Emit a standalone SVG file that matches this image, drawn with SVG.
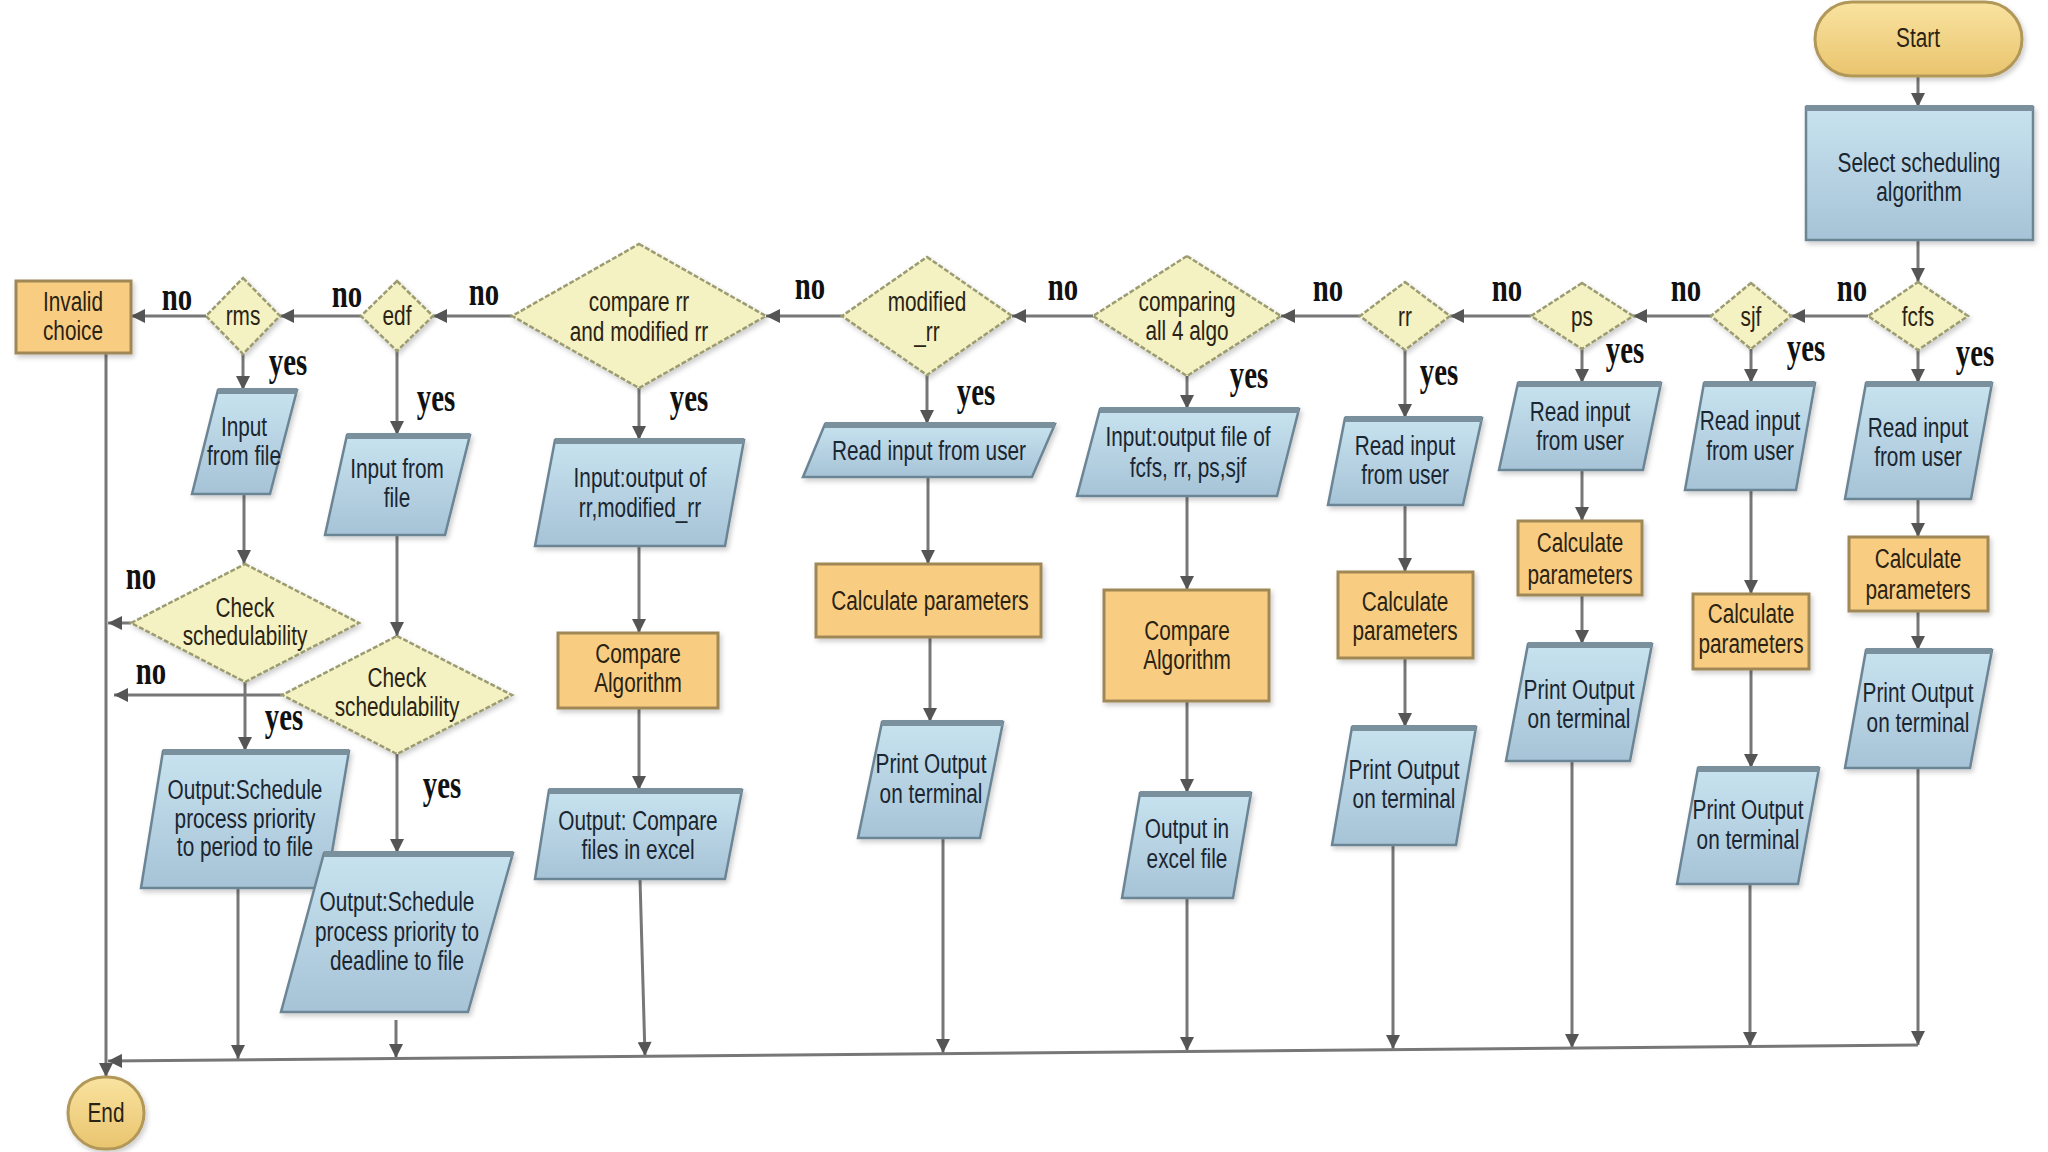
<svg xmlns="http://www.w3.org/2000/svg" width="2048" height="1152" viewBox="0 0 2048 1152">
<defs>
<linearGradient id="gb" x1="0" y1="0" x2="0" y2="1"><stop offset="0" stop-color="#c8e3ef"/><stop offset="1" stop-color="#a6c3d7"/></linearGradient>
<linearGradient id="gt" x1="0" y1="0" x2="0" y2="1"><stop offset="0" stop-color="#f9e3a0"/><stop offset="1" stop-color="#e9c46e"/></linearGradient>
<filter id="sh" x="-10%" y="-10%" width="130%" height="130%"><feDropShadow dx="2" dy="3" stdDeviation="2.5" flood-color="#000" flood-opacity="0.2"/></filter>
<marker id="ah" viewBox="0 0 10 10" refX="10" refY="5" markerWidth="15" markerHeight="14" markerUnits="userSpaceOnUse" orient="auto"><path d="M0,0 L10,5 L0,10 z" fill="#555"/></marker>
<style>
.blue{fill:url(#gb);stroke:#6c8595;stroke-width:2.5;filter:url(#sh)}
.tb{stroke:#7a909c;stroke-width:6}
.org{fill:#f9cd81;stroke:#9f8857;stroke-width:3;filter:url(#sh)}
.dia{fill:#f4f1c2;stroke:#9c9c70;stroke-width:2.5;stroke-dasharray:5 2;filter:url(#sh)}
.term{fill:url(#gt);stroke:#b29859;stroke-width:3;filter:url(#sh)}
.nt{font-family:"Liberation Sans",Arial,sans-serif;font-size:27px;fill:#1a2631;text-anchor:middle}
.ot{fill:#2a2314}
.lb{font-family:"Liberation Serif","Times New Roman",serif;font-weight:bold;font-size:40px;fill:#111;text-anchor:middle}
.cn line{stroke:#777;stroke-width:3;fill:none}
.cn .a{marker-end:url(#ah)}
</style>
</defs>
<rect width="2048" height="1152" fill="#fff"/>

<g id="connectors" class="cn">
<line class="a" x1="1918" y1="76" x2="1918" y2="107"/>
<line class="a" x1="1918" y1="240" x2="1918" y2="282"/>
<line class="a" x1="1918" y1="350" x2="1918" y2="383"/>
<line class="a" x1="1918" y1="499" x2="1918" y2="537"/>
<line class="a" x1="1918" y1="611" x2="1918" y2="650"/>
<line class="a" x1="1918" y1="768" x2="1918" y2="1045"/>
<line class="a" x1="1868" y1="316" x2="1791" y2="316"/>
<line class="a" x1="1751" y1="349" x2="1751" y2="383"/>
<line class="a" x1="1751" y1="490" x2="1751" y2="594"/>
<line class="a" x1="1751" y1="669" x2="1751" y2="768"/>
<line class="a" x1="1750" y1="884" x2="1750" y2="1046"/>
<line class="a" x1="1711" y1="316" x2="1633" y2="316"/>
<line class="a" x1="1582" y1="349" x2="1582" y2="383"/>
<line class="a" x1="1582" y1="470" x2="1582" y2="521"/>
<line class="a" x1="1582" y1="595" x2="1582" y2="644"/>
<line class="a" x1="1572" y1="761" x2="1572" y2="1048"/>
<line class="a" x1="1531" y1="316" x2="1450" y2="316"/>
<line class="a" x1="1405" y1="350" x2="1405" y2="418"/>
<line class="a" x1="1405" y1="505" x2="1405" y2="572"/>
<line class="a" x1="1405" y1="658" x2="1405" y2="727"/>
<line class="a" x1="1393" y1="845" x2="1393" y2="1049"/>
<line class="a" x1="1360" y1="316" x2="1281" y2="316"/>
<line class="a" x1="1187" y1="376" x2="1187" y2="409"/>
<line class="a" x1="1187" y1="496" x2="1187" y2="590"/>
<line class="a" x1="1187" y1="701" x2="1187" y2="793"/>
<line class="a" x1="1187" y1="898" x2="1187" y2="1051"/>
<line class="a" x1="1093" y1="316" x2="1012" y2="316"/>
<line class="a" x1="927" y1="375" x2="927" y2="424"/>
<line class="a" x1="928" y1="477" x2="928" y2="564"/>
<line class="a" x1="930" y1="637" x2="930" y2="722"/>
<line class="a" x1="943" y1="838" x2="943" y2="1053"/>
<line class="a" x1="842" y1="316" x2="766" y2="316"/>
<line class="a" x1="639" y1="388" x2="639" y2="440"/>
<line class="a" x1="639" y1="546" x2="639" y2="633"/>
<line class="a" x1="639" y1="708" x2="639" y2="790"/>
<line class="a" x1="640" y1="879" x2="645" y2="1056"/>
<line class="a" x1="512" y1="316" x2="433" y2="316"/>
<line class="a" x1="397" y1="351" x2="397" y2="435"/>
<line class="a" x1="397" y1="535" x2="397" y2="636"/>
<line class="a" x1="397" y1="754" x2="397" y2="853"/>
<line class="a" x1="396" y1="1020" x2="396" y2="1058"/>
<line class="a" x1="282" y1="695" x2="114" y2="695"/>
<line class="a" x1="361" y1="316" x2="280" y2="316"/>
<line class="a" x1="243" y1="354" x2="243" y2="390"/>
<line class="a" x1="244" y1="494" x2="244" y2="564"/>
<line class="a" x1="245" y1="682" x2="245" y2="751"/>
<line class="a" x1="238" y1="888" x2="238" y2="1059"/>
<line class="a" x1="131" y1="623" x2="108" y2="623"/>
<line class="a" x1="206" y1="316" x2="131" y2="316"/>
<line class="a" x1="106" y1="353" x2="106" y2="1077"/>
<line class="a" x1="1918" y1="1045" x2="108" y2="1061"/>
</g>

<g id="labels">
<text class="lb" transform="translate(1852 0) scale(.72 1)" x="0" y="301">no</text>
<text class="lb" transform="translate(1686 0) scale(.72 1)" x="0" y="301">no</text>
<text class="lb" transform="translate(1507 0) scale(.72 1)" x="0" y="301">no</text>
<text class="lb" transform="translate(1328 0) scale(.72 1)" x="0" y="301">no</text>
<text class="lb" transform="translate(1063 0) scale(.72 1)" x="0" y="300">no</text>
<text class="lb" transform="translate(810 0) scale(.72 1)" x="0" y="299">no</text>
<text class="lb" transform="translate(484 0) scale(.72 1)" x="0" y="305">no</text>
<text class="lb" transform="translate(347 0) scale(.72 1)" x="0" y="307">no</text>
<text class="lb" transform="translate(177 0) scale(.72 1)" x="0" y="310">no</text>
<text class="lb" transform="translate(141 0) scale(.72 1)" x="0" y="589">no</text>
<text class="lb" transform="translate(151 0) scale(.72 1)" x="0" y="684">no</text>
<text class="lb" transform="translate(1975 0) scale(.72 1)" x="0" y="366">yes</text>
<text class="lb" transform="translate(1806 0) scale(.72 1)" x="0" y="361">yes</text>
<text class="lb" transform="translate(1625 0) scale(.72 1)" x="0" y="363">yes</text>
<text class="lb" transform="translate(1439 0) scale(.72 1)" x="0" y="385">yes</text>
<text class="lb" transform="translate(1249 0) scale(.72 1)" x="0" y="388">yes</text>
<text class="lb" transform="translate(976 0) scale(.72 1)" x="0" y="405">yes</text>
<text class="lb" transform="translate(689 0) scale(.72 1)" x="0" y="411">yes</text>
<text class="lb" transform="translate(436 0) scale(.72 1)" x="0" y="411">yes</text>
<text class="lb" transform="translate(288 0) scale(.72 1)" x="0" y="375">yes</text>
<text class="lb" transform="translate(284 0) scale(.72 1)" x="0" y="730">yes</text>
<text class="lb" transform="translate(442 0) scale(.72 1)" x="0" y="798">yes</text>
</g>

<g id="start"><rect class="term" x="1815" y="2" width="207" height="74" rx="37"/><text class="nt ot" transform="translate(1918 0) scale(.77 1)" x="0" y="47">Start</text></g>
<g id="select"><rect class="blue" x="1806" y="107" width="227" height="133"/><line class="tb" x1="1806" y1="108" x2="2033" y2="108"/><text class="nt" transform="translate(1919 0) scale(.77 1)"><tspan x="0" y="172">Select scheduling</tspan><tspan x="0" y="201">algorithm</tspan></text></g>

<g id="fcfs"><polygon class="dia" points="1918,282 1968,316 1918,350 1868,316"/><text class="nt ot" transform="translate(1918 0) scale(.77 1)" x="0" y="326">fcfs</text></g>
<g id="fcfs_read"><polygon class="blue" points="1866,383 1992,383 1971,499 1845,499"/><line class="tb" x1="1866" y1="384" x2="1992" y2="384"/><text class="nt" transform="translate(1918 0) scale(.77 1)"><tspan x="0" y="437">Read input</tspan><tspan x="0" y="466">from user</tspan></text></g>
<g id="fcfs_calc"><rect class="org" x="1849" y="537" width="139" height="74"/><text class="nt ot" transform="translate(1918 0) scale(.77 1)"><tspan x="0" y="568">Calculate</tspan><tspan x="0" y="599">parameters</tspan></text></g>
<g id="fcfs_print"><polygon class="blue" points="1866,650 1992,650 1970,768 1845,768"/><line class="tb" x1="1866" y1="651" x2="1992" y2="651"/><text class="nt" transform="translate(1918 0) scale(.77 1)"><tspan x="0" y="702">Print Output</tspan><tspan x="0" y="732">on terminal</tspan></text></g>

<g id="sjf"><polygon class="dia" points="1751,283 1791,316 1751,349 1711,316"/><text class="nt ot" transform="translate(1751 0) scale(.77 1)" x="0" y="326">sjf</text></g>
<g id="sjf_read"><polygon class="blue" points="1704,383 1815,383 1796,490 1685,490"/><line class="tb" x1="1704" y1="384" x2="1815" y2="384"/><text class="nt" transform="translate(1750 0) scale(.77 1)"><tspan x="0" y="430">Read input</tspan><tspan x="0" y="460">from user</tspan></text></g>
<g id="sjf_calc"><rect class="org" x="1693" y="594" width="116" height="75"/><text class="nt ot" transform="translate(1751 0) scale(.77 1)"><tspan x="0" y="623">Calculate</tspan><tspan x="0" y="653">parameters</tspan></text></g>
<g id="sjf_print"><polygon class="blue" points="1698,768 1819,768 1798,884 1677,884"/><line class="tb" x1="1698" y1="769" x2="1819" y2="769"/><text class="nt" transform="translate(1748 0) scale(.77 1)"><tspan x="0" y="819">Print Output</tspan><tspan x="0" y="849">on terminal</tspan></text></g>

<g id="ps"><polygon class="dia" points="1582,283 1633,316 1582,349 1531,316"/><text class="nt ot" transform="translate(1582 0) scale(.77 1)" x="0" y="326">ps</text></g>
<g id="ps_read"><polygon class="blue" points="1518,383 1661,383 1643,470 1499,470"/><line class="tb" x1="1518" y1="384" x2="1661" y2="384"/><text class="nt" transform="translate(1580 0) scale(.77 1)"><tspan x="0" y="421">Read input</tspan><tspan x="0" y="450">from user</tspan></text></g>
<g id="ps_calc"><rect class="org" x="1518" y="521" width="124" height="74"/><text class="nt ot" transform="translate(1580 0) scale(.77 1)"><tspan x="0" y="552">Calculate</tspan><tspan x="0" y="584">parameters</tspan></text></g>
<g id="ps_print"><polygon class="blue" points="1528,644 1652,644 1630,761 1506,761"/><line class="tb" x1="1528" y1="645" x2="1652" y2="645"/><text class="nt" transform="translate(1579 0) scale(.77 1)"><tspan x="0" y="699">Print Output</tspan><tspan x="0" y="728">on terminal</tspan></text></g>

<g id="rr"><polygon class="dia" points="1405,282 1450,316 1405,350 1360,316"/><text class="nt ot" transform="translate(1405 0) scale(.77 1)" x="0" y="326">rr</text></g>
<g id="rr_read"><polygon class="blue" points="1345,418 1482,418 1463,505 1328,505"/><line class="tb" x1="1345" y1="419" x2="1482" y2="419"/><text class="nt" transform="translate(1405 0) scale(.77 1)"><tspan x="0" y="455">Read input</tspan><tspan x="0" y="484">from user</tspan></text></g>
<g id="rr_calc"><rect class="org" x="1338" y="572" width="135" height="86"/><text class="nt ot" transform="translate(1405 0) scale(.77 1)"><tspan x="0" y="611">Calculate</tspan><tspan x="0" y="640">parameters</tspan></text></g>
<g id="rr_print"><polygon class="blue" points="1352,727 1476,727 1456,845 1332,845"/><line class="tb" x1="1352" y1="728" x2="1476" y2="728"/><text class="nt" transform="translate(1404 0) scale(.77 1)"><tspan x="0" y="779">Print Output</tspan><tspan x="0" y="808">on terminal</tspan></text></g>

<g id="compare_all"><polygon class="dia" points="1187,256 1281,316 1187,376 1093,316"/><text class="nt ot" transform="translate(1187 0) scale(.77 1)"><tspan x="0" y="311">comparing</tspan><tspan x="0" y="340">all 4 algo</tspan></text></g>
<g id="all_input"><polygon class="blue" points="1100,409 1299,409 1277,496 1077,496"/><line class="tb" x1="1100" y1="410" x2="1299" y2="410"/><text class="nt" transform="translate(1188 0) scale(.77 1)"><tspan x="0" y="446">Input:output file of</tspan><tspan x="0" y="477">fcfs, rr, ps,sjf</tspan></text></g>
<g id="all_compare"><rect class="org" x="1104" y="590" width="165" height="111"/><text class="nt ot" transform="translate(1187 0) scale(.77 1)"><tspan x="0" y="640">Compare</tspan><tspan x="0" y="669">Algorithm</tspan></text></g>
<g id="all_excel"><polygon class="blue" points="1140,793 1251,793 1233,898 1122,898"/><line class="tb" x1="1140" y1="794" x2="1251" y2="794"/><text class="nt" transform="translate(1187 0) scale(.77 1)"><tspan x="0" y="838">Output in</tspan><tspan x="0" y="868">excel file</tspan></text></g>

<g id="modified_rr"><polygon class="dia" points="927,257 1012,316 927,375 842,316"/><text class="nt ot" transform="translate(927 0) scale(.77 1)"><tspan x="0" y="311">modified</tspan><tspan x="0" y="341">_rr</tspan></text></g>
<g id="mod_read"><polygon class="blue" points="825,424 1055,424 1032,477 803,477"/><line class="tb" x1="825" y1="425" x2="1055" y2="425"/><text class="nt" transform="translate(929 0) scale(.77 1)" x="0" y="460">Read input from user</text></g>
<g id="mod_calc"><rect class="org" x="816" y="564" width="225" height="73"/><text class="nt ot" transform="translate(930 0) scale(.77 1)" x="0" y="610">Calculate parameters</text></g>
<g id="mod_print"><polygon class="blue" points="882,722 1003,722 980,838 858,838"/><line class="tb" x1="882" y1="723" x2="1003" y2="723"/><text class="nt" transform="translate(931 0) scale(.77 1)"><tspan x="0" y="773">Print Output</tspan><tspan x="0" y="803">on terminal</tspan></text></g>

<g id="compare_rr"><polygon class="dia" points="639,244 766,316 639,388 512,316"/><text class="nt ot" transform="translate(639 0) scale(.77 1)"><tspan x="0" y="311">compare rr</tspan><tspan x="0" y="341">and modified rr</tspan></text></g>
<g id="crr_input"><polygon class="blue" points="555,440 744,440 725,546 535,546"/><line class="tb" x1="555" y1="441" x2="744" y2="441"/><text class="nt" transform="translate(640 0) scale(.77 1)"><tspan x="0" y="487">Input:output of</tspan><tspan x="0" y="517">rr,modified_rr</tspan></text></g>
<g id="crr_compare"><rect class="org" x="558" y="633" width="160" height="75"/><text class="nt ot" transform="translate(638 0) scale(.77 1)"><tspan x="0" y="663">Compare</tspan><tspan x="0" y="692">Algorithm</tspan></text></g>
<g id="crr_output"><polygon class="blue" points="549,790 742,790 725,879 535,879"/><line class="tb" x1="549" y1="791" x2="742" y2="791"/><text class="nt" transform="translate(638 0) scale(.77 1)"><tspan x="0" y="830">Output: Compare</tspan><tspan x="0" y="859">files in excel</tspan></text></g>

<g id="invalid"><rect class="org" x="16" y="281" width="115" height="72"/><text class="nt ot" transform="translate(73 0) scale(.77 1)"><tspan x="0" y="311">Invalid</tspan><tspan x="0" y="340">choice</tspan></text></g>

<g id="rms"><polygon class="dia" points="243,278 280,316 243,354 206,316"/><text class="nt ot" transform="translate(243 0) scale(.77 1)" x="0" y="325">rms</text></g>
<g id="rms_input"><polygon class="blue" points="218,390 297,390 270,494 192,494"/><line class="tb" x1="218" y1="391" x2="297" y2="391"/><text class="nt" transform="translate(244 0) scale(.77 1)"><tspan x="0" y="436">Input</tspan><tspan x="0" y="465">from file</tspan></text></g>
<g id="rms_check"><polygon class="dia" points="245,564 359,623 245,682 131,623"/><text class="nt ot" transform="translate(245 0) scale(.77 1)"><tspan x="0" y="617">Check</tspan><tspan x="0" y="645">schedulability</tspan></text></g>
<g id="rms_output"><polygon class="blue" points="163,751 349,751 326,888 141,888"/><line class="tb" x1="163" y1="752" x2="349" y2="752"/><text class="nt" transform="translate(245 0) scale(.77 1)"><tspan x="0" y="799">Output:Schedule</tspan><tspan x="0" y="828">process priority</tspan><tspan x="0" y="856">to period to file</tspan></text></g>

<g id="edf"><polygon class="dia" points="397,281 433,316 397,351 361,316"/><text class="nt ot" transform="translate(397 0) scale(.77 1)" x="0" y="325">edf</text></g>
<g id="edf_input"><polygon class="blue" points="347,435 470,435 445,535 325,535"/><line class="tb" x1="347" y1="436" x2="470" y2="436"/><text class="nt" transform="translate(397 0) scale(.77 1)"><tspan x="0" y="478">Input from</tspan><tspan x="0" y="507">file</tspan></text></g>
<g id="edf_check"><polygon class="dia" points="397,636 512,695 397,754 282,695"/><text class="nt ot" transform="translate(397 0) scale(.77 1)"><tspan x="0" y="687">Check</tspan><tspan x="0" y="716">schedulability</tspan></text></g>
<g id="edf_output"><polygon class="blue" points="324,853 513,853 468,1012 281,1012"/><line class="tb" x1="324" y1="854" x2="513" y2="854"/><text class="nt" transform="translate(397 0) scale(.77 1)"><tspan x="0" y="911">Output:Schedule</tspan><tspan x="0" y="941">process priority to</tspan><tspan x="0" y="970">deadline to file</tspan></text></g>

<g id="end"><rect class="term" x="68" y="1077" width="76" height="72" rx="36"/><text class="nt ot" transform="translate(106 0) scale(.77 1)" x="0" y="1122">End</text></g>
</svg>
